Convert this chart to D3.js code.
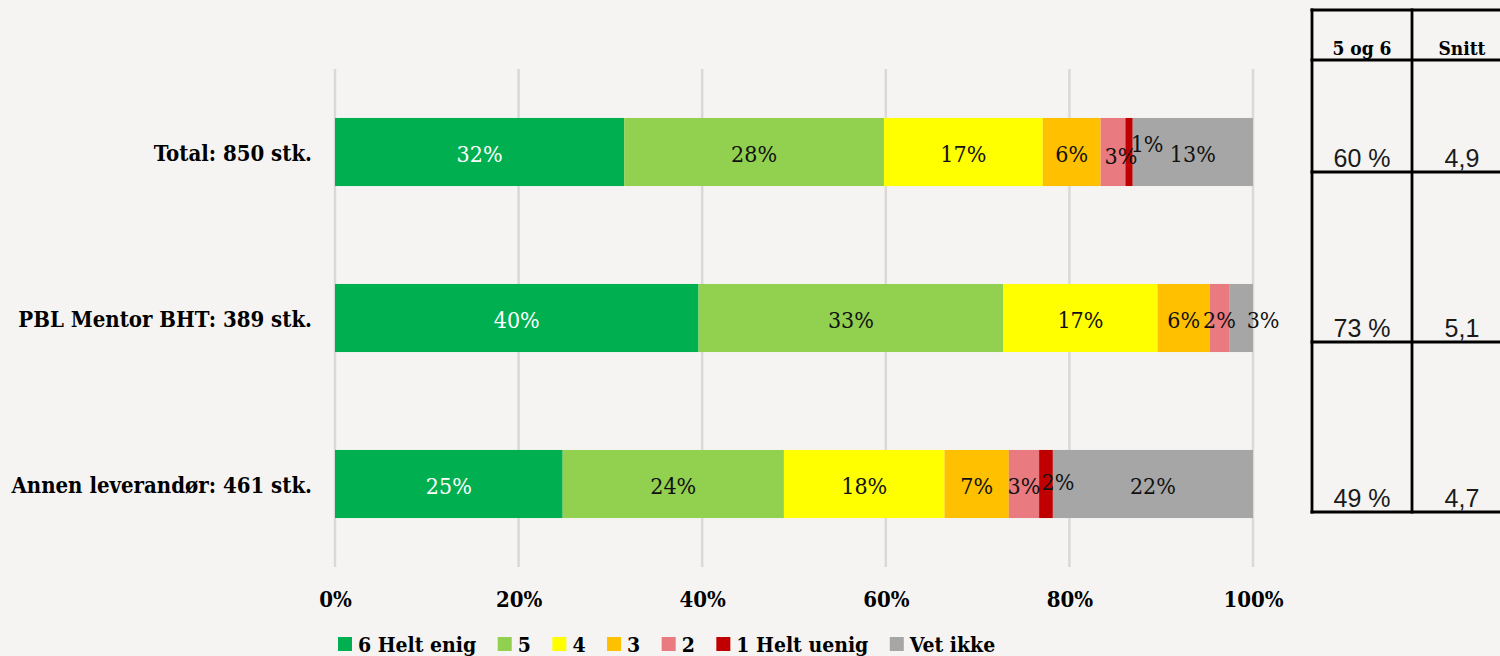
<!DOCTYPE html>
<html>
<head>
<meta charset="utf-8">
<script src="https://cdn.jsdelivr.net/npm/d3@7"></script>
<style>
  html, body { margin: 0; padding: 0; background: #f5f4f2; }
  svg { display: block; }
  .serif { font-family: "DejaVu Serif Condensed", "DejaVu Serif", serif; font-stretch: condensed; }
  .sans { font-family: "Liberation Sans", Arial, sans-serif; }
</style>
</head>
<body>
<script>
// categories (rows) and answer options (series)
var categories = ["Total: 850 stk.", "PBL Mentor BHT: 389 stk.", "Annen leverandør: 461 stk."];
var seriesNames = ["6 Helt enig", "5", "4", "3", "2", "1 Helt uenig", "Vet ikke"];
var seriesColors = ["#00b050", "#92d050", "#ffff00", "#ffc000", "#e97a80", "#c00000", "#a6a6a6"];

// percent per category, one array per series
var helt6 = [31.5, 39.6, 24.8];
var val5 = [28.3, 33.2, 24.1];
var val4 = [17.3, 16.8, 17.5];
var val3 = [6.3, 5.7, 7.0];
var val2 = [2.7, 2.1, 3.3];
var helt1 = [0.8, 0, 1.5];
var vetIkke = [13.1, 2.6, 21.8];

var xTicks = [0, 20, 40, 60, 80, 100];

// side table
var tableHead = ["5 og 6", "Snitt"];
var share56 = ["60 %", "73 %", "49 %"];
var snitt = ["4,9", "5,1", "4,7"];

var seriesValues = [helt6, val5, val4, val3, val2, helt1, vetIkke];

var svgWidth = 1500;
var svgHeight = 656;

var svg = d3.select("body")
            .append("svg")
            .attr("width", svgWidth)
            .attr("height", svgHeight);

// build table rows for d3.stack
var rows = categories.map(function(c, i) {
  var r = { cat: c };
  seriesNames.forEach(function(s, j) { r[s] = seriesValues[j][i]; });
  return r;
});

var xScale = d3.scaleLinear()
            .domain([0, 100])
            .range([335, 1253]);

var yScale = d3.scaleBand()
            .domain(categories)
            .range([69, 567])
            .paddingInner(0.59)
            .paddingOuter(0.295);

// gridlines
svg.append("g")
   .selectAll("line")
   .data(xTicks)
   .enter()
   .append("line")
   .attr("x1", d => xScale(d))
   .attr("x2", d => xScale(d))
   .attr("y1", 69)
   .attr("y2", 567)
   .attr("stroke", "#d9d9d9")
   .attr("stroke-width", 2.5);

// x axis labels
var bottomAxis = d3.axisBottom(xScale)
                   .tickValues(xTicks)
                   .tickSize(0)
                   .tickPadding(0)
                   .tickFormat(d => d + "%");

var xAxis = svg.append("g")
   .attr("transform", "translate(0, 590)")
   .call(bottomAxis);
xAxis.select(".domain").remove();
xAxis.selectAll("text")
   .attr("class", "serif")
   .attr("dy", null)
   .attr("y", 17)
   .style("font-size", "22px")
   .style("font-weight", "bold")
   .attr("fill", "#000");

// category labels
var leftAxis = d3.axisLeft(yScale).tickSize(0).tickPadding(0);
var yAxis = svg.append("g")
   .attr("transform", "translate(312, 0)")
   .call(leftAxis);
yAxis.select(".domain").remove();
yAxis.selectAll("text")
   .attr("class", "serif")
   .attr("dy", "0.32em")
   .attr("y", 2)
   .style("font-size", "22px")
   .style("font-weight", "bold")
   .attr("fill", "#000");

// stacked bars
var stacked = d3.stack().keys(seriesNames)(rows);

// manual nudges for the small labels (series index, category index)
var labelNudge = {
  "5-0": [18, -10],
  "4-0": [8, 2],
  "6-1": [22, 0],
  "5-2": [12, -4]
};

var layers = svg.append("g")
   .selectAll("g")
   .data(stacked)
   .enter()
   .append("g")
   .attr("fill", (d, i) => seriesColors[i]);

layers.selectAll("rect")
   .data(d => d)
   .enter()
   .append("rect")
   .attr("x", d => xScale(d[0]))
   .attr("y", d => yScale(d.data.cat))
   .attr("width", d => xScale(d[1]) - xScale(d[0]))
   .attr("height", yScale.bandwidth());

stacked.forEach(function(layer, si) {
  svg.append("g")
     .selectAll("text")
     .data(layer.filter(d => d[1] - d[0] > 0))
     .enter()
     .append("text")
     .attr("class", "serif")
     .attr("x", function(d) {
        var ci = categories.indexOf(d.data.cat);
        var n = labelNudge[si + "-" + ci];
        return (xScale(d[0]) + xScale(d[1])) / 2 + (n ? n[0] : 0);
     })
     .attr("y", function(d) {
        var ci = categories.indexOf(d.data.cat);
        var n = labelNudge[si + "-" + ci];
        return yScale(d.data.cat) + yScale.bandwidth() / 2 + 2 + (n ? n[1] : 0);
     })
     .attr("dy", "0.35em")
     .style("font-size", "23px")
     .style("text-anchor", "middle")
     .attr("fill", si === 0 ? "#ffffff" : "#111")
     .text(d => Math.round(d[1] - d[0]) + "%");
});

// legend
var legend = svg.append("g").attr("transform", "translate(338, 0)");
var lx = 0;
seriesNames.forEach(function(s, i) {
  legend.append("rect")
     .attr("x", lx)
     .attr("y", 637)
     .attr("width", 14)
     .attr("height", 14)
     .attr("fill", seriesColors[i]);
  var t = legend.append("text")
     .attr("class", "serif")
     .attr("x", lx + 20)
     .attr("y", 652)
     .style("font-size", "21px")
     .style("font-weight", "bold")
     .attr("fill", "#000")
     .text(s);
  lx += 20 + t.node().getComputedTextLength() + 21.5;
});

// side table
var table = svg.append("g");
var colX = [1312, 1412, 1512];
var rowY = [10, 60, 172, 342, 512];

rowY.forEach(function(y) {
  table.append("line")
     .attr("x1", colX[0] - 1.5).attr("x2", colX[2])
     .attr("y1", y).attr("y2", y)
     .attr("stroke", "#000").attr("stroke-width", 2.8);
});
colX.forEach(function(x) {
  table.append("line")
     .attr("x1", x).attr("x2", x)
     .attr("y1", rowY[0] - 1.4).attr("y2", rowY[4] + 1.4)
     .attr("stroke", "#000").attr("stroke-width", 2.8);
});

tableHead.forEach(function(h, i) {
  table.append("text")
     .attr("class", "serif")
     .attr("x", (colX[i] + colX[i + 1]) / 2)
     .attr("y", 55)
     .style("font-size", "19px")
     .style("font-weight", "bold")
     .style("text-anchor", "middle")
     .attr("fill", "#000")
     .text(h);
});

[share56, snitt].forEach(function(col, ci) {
  col.forEach(function(v, ri) {
    table.append("text")
       .attr("class", "sans")
       .attr("x", (colX[ci] + colX[ci + 1]) / 2)
       .attr("y", rowY[ri + 2] - 5)
       .style("font-size", "25px")
       .style("text-anchor", "middle")
       .attr("fill", "#1a1a1a")
       .text(v);
  });
});
</script>
</body>
</html>
